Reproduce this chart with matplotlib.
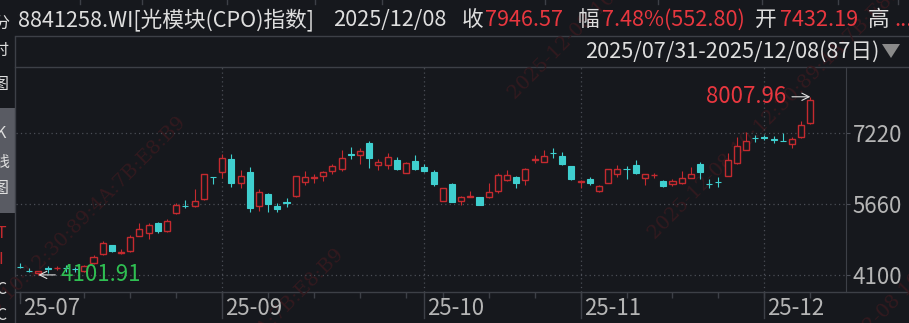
import numpy as np
import matplotlib
matplotlib.use("Agg")
import matplotlib.pyplot as plt
from matplotlib.patches import Polygon, Rectangle
from matplotlib.transforms import blended_transform_factory

plt.rcParams['font.family'] = ['Noto Sans CJK SC', 'DejaVu Sans']

# -------------------------------
# DATA (daily candles 2025/07/31 - 2025/12/08, 87 days)
# -------------------------------
opens = [4270, 4182, 4135, 4250, 4255, 4262, 4228, 4190, 4370, 4560,
         4751, 4572, 4632, 4962, 5014, 5233, 5064, 5466, 5620, 5613,
         5766, 6245, 6365, 6643, 6124, 6358, 5619, 5869, 5613, 5690,
         5832, 6146, 6235, 6277, 6380, 6424, 6750, 6731, 7001, 6512,
         6512, 6621, 6343, 6599, 6475, 6365, 5722, 6095, 5722, 5808,
         5804, 5804, 5941, 6183, 6255, 6183, 6628, 6584, 6785, 6709,
         6490, 6140, 6197, 5948, 6124, 6321, 6435, 6512, 6234, 6287,
         6161, 6095, 6124, 6234, 6534, 6095, 6150, 6277, 6548, 6841,
         7100, 7125, 7080, 7040, 6966, 7132, 7432.19]
highs = [4369, 4260, 4190, 4297, 4297, 4318, 4270, 4318, 4530, 4838,
         4760, 4660, 4985, 5231, 5230, 5270, 5320, 5672, 5740, 5985,
         6320, 6250, 6746, 6753, 6402, 6461, 5985, 5890, 5672, 5781,
         6270, 6380, 6314, 6387, 6526, 6841, 6913, 6878, 7045, 6643,
         6768, 6680, 6580, 6731, 6526, 6400, 6010, 6110, 5832, 5941,
         5810, 6110, 6330, 6402, 6265, 6440, 6731, 6841, 6878, 6800,
         6495, 6178, 6250, 6070, 6430, 6512, 6490, 6621, 6320, 6340,
         6175, 6210, 6387, 6475, 6570, 6205, 6242, 6768, 7132, 7228,
         7170, 7170, 7148, 7207, 7130, 7483, 8007.96]
lows = [4262, 4159, 4101.91, 4150, 4216, 4159, 4165, 4165, 4350, 4540,
        4610, 4550, 4610, 4950, 4882, 5030, 5050, 5437, 5570, 5600,
        5750, 6088, 6220, 6036, 6014, 5488, 5510, 5488, 5488, 5584,
        5804, 6073, 6110, 6168, 6314, 6380, 6643, 6534, 6453, 6402,
        6424, 6402, 6330, 6402, 6365, 6044, 5715, 5690, 5635, 5800,
        5635, 5795, 5905, 6160, 6014, 6080, 6548, 6580, 6672, 6512,
        6180, 6014, 6080, 5920, 6110, 6255, 6205, 6314, 6073, 6234,
        6040, 6044, 6088, 6220, 6205, 6014, 6036, 6260, 6530, 6830,
        7023, 7053, 6988, 7030, 6895, 7097, 7420]
closes = [4266, 4178, 4178, 4242, 4262, 4256, 4222, 4300, 4500, 4795,
          4632, 4605, 4940, 5102, 5203, 5071, 5284, 5635, 5605, 5722,
          6308, 6240, 6658, 6124, 6264, 5575, 5913, 5663, 5553, 5682,
          6264, 6242, 6245, 6358, 6490, 6658, 6742, 6819, 6672, 6584,
          6694, 6417, 6562, 6424, 6387, 6095, 6000, 5707, 5804, 5826,
          5635, 5920, 6292, 6292, 6124, 6424, 6645, 6709, 6778, 6534,
          6197, 6172, 6124, 6051, 6424, 6417, 6428, 6343, 6307, 6297,
          6058, 6161, 6220, 6314, 6365, 6085, 6140, 6621, 6928, 7038,
          7094, 7112, 7070, 7036, 7082, 7393.77, 7946.57]

month_labels = ['25-07', '25-09', '25-10', '25-11', '25-12']
month_pos = [0, 22, 44, 61, 81]
week_ticks = [0, 7, 12, 17, 22, 27, 32, 37, 42, 46, 51, 56, 61, 66, 71, 76, 81, 86]
y_ticks = [4100, 5660, 7220]

# colours
BG = '#16181d'
RED = '#c42a2f'
RED_TXT = '#e8373f'
CYAN = '#3fcfcf'
GREEN = '#2fbf52'
LINE = '#3d4047'
GRID = '#4b4e56'
TXT = '#dedede'
AXTXT = '#b5b5b5'
FS_HEAD = 15.6
FS_AX = 16

W, H = 909, 323
fig = plt.figure(figsize=(W / 100, H / 100), dpi=100)
fig.patch.set_facecolor(BG)

# -------------------------------
# background layer in pixel coords (header, sidebar, frame)
# -------------------------------
deco = fig.add_axes([0, 0, 1, 1], zorder=0)
deco.set_xlim(0, W)
deco.set_ylim(H, 0)
deco.axis('off')

# faint watermark
wm = '2025-12-08 10:12:30:89:4A:7B:E8:B9'
for sx, sy in [(-75, 385), (83, 517), (515, 100), (655, 240), (822, 381)]:
    deco.text(sx, sy, wm, rotation=45, rotation_mode='anchor', ha='left',
              va='baseline', fontsize=14, color='#331a1f', family='DejaVu Serif')

# sidebar
deco.add_patch(Rectangle((0, 108), 15, 105, color='#595b63', lw=0))
deco.plot([15, 15], [37, H], color=LINE, lw=1)
for ch, yy, cc in [('分', 24, TXT), ('时', 50, TXT), ('图', 84, TXT),
                   ('K', 134, TXT), ('线', 163, TXT), ('图', 188, TXT),
                   ('T', 233, RED), ('I', 260, RED), ('C', 289, TXT), ('C', 316, TXT)]:
    deco.text(1, yy, ch, ha='center', va='center', fontsize=11.5, color=cc)

# frame lines
deco.plot([15, W], [36, 36], color=LINE, lw=1)
deco.plot([15, W], [67, 67], color=LINE, lw=1)
deco.plot([15, W], [292, 292], color=LINE, lw=1)
for xx in [80, 142, 227, 315, 382, 545, 658, 762, 838, 898]:
    deco.plot([xx, xx], [0, 4], color=LINE, lw=1)

# header
deco.text(18, 20, '8841258.WI[光模块(CPO)指数]', fontsize=FS_HEAD, color=TXT, va='center')
deco.text(333, 20, '2025/12/08', fontsize=FS_HEAD, color=TXT, va='center')
deco.text(462, 20, '收', fontsize=FS_HEAD, color=TXT, va='center')
deco.text(485, 20, '7946.57', fontsize=FS_HEAD, color=RED_TXT, va='center')
deco.text(578, 20, '幅', fontsize=FS_HEAD, color=TXT, va='center')
deco.text(602, 20, '7.48%(552.80)', fontsize=FS_HEAD, color=RED_TXT, va='center')
deco.text(755, 20, '开', fontsize=FS_HEAD, color=TXT, va='center')
deco.text(780, 20, '7432.19', fontsize=FS_HEAD, color=RED_TXT, va='center')
deco.text(868, 20, '高', fontsize=FS_HEAD, color=TXT, va='center')
deco.text(894, 20, '...', fontsize=FS_HEAD, color=RED_TXT, va='center')

deco.text(585, 52, '2025/07/31-2025/12/08(87日)', fontsize=FS_HEAD, color=TXT, va='center')
deco.add_patch(Polygon([(882, 44), (900, 44), (891, 58)], color='#8a8a8a', lw=0))

# -------------------------------
# CANDLESTICK AXES
# -------------------------------
ax = fig.add_axes([16 / W, 1 - 292 / H, (845.7 - 16) / W, (292 - 67) / H], zorder=1)
ax.set_facecolor('none')
ax.set_xlim(-0.435, 89.85)
ax.set_ylim(3727, 8661)

o = np.array(opens)
h = np.array(highs)
l = np.array(lows)
c = np.array(closes)
x = np.arange(len(o))
up = c >= o
top = np.maximum(o, c)
bot = np.minimum(o, c)

# wicks (not through hollow bodies)
ax.vlines(x[up], top[up], h[up], color=RED, lw=0.8, zorder=2)
ax.vlines(x[up], l[up], bot[up], color=RED, lw=0.8, zorder=2)
ax.vlines(x[~up], l[~up], h[~up], color=CYAN, lw=0.8, zorder=2)

# bodies
ax.bar(x[up], top[up] - bot[up], bottom=bot[up], width=0.66,
       facecolor=BG, edgecolor=RED, linewidth=1.0, zorder=3)
ax.bar(x[~up], top[~up] - bot[~up], bottom=bot[~up], width=0.66,
       facecolor=CYAN, edgecolor=CYAN, linewidth=0.8, zorder=3)

# min / max labels
i_min = int(np.argmin(l))
i_max = int(np.argmax(h))
ax.annotate(f'{l[i_min]:.2f}', xy=(i_min, l[i_min]), xytext=(i_min + 2.45, l[i_min]),
            ha='left', va='center', fontsize=FS_AX, color=GREEN, zorder=5,
            arrowprops=dict(arrowstyle='->', color='#e0e0e0', lw=0.8,
                            mutation_scale=13, relpos=(0, 0.5), shrinkB=0))
ax.annotate(f'{h[i_max]:.2f}', xy=(i_max, h[i_max]), xytext=(i_max - 2.6, h[i_max]),
            ha='right', va='center', fontsize=FS_AX, color=RED_TXT, zorder=5,
            arrowprops=dict(arrowstyle='->', color='#e0e0e0', lw=0.8,
                            mutation_scale=13, relpos=(1, 0.5), shrinkB=0))

# grid
for yv in y_ticks:
    ax.axhline(yv, color=GRID, lw=0.9, ls=(0, (1, 2.5)), zorder=1)
for mp in month_pos[1:]:
    ax.axvline(mp, color=GRID, lw=0.9, ls=(0, (1, 2.5)), zorder=1)

# axis styling
for s in ['left', 'top', 'bottom']:
    ax.spines[s].set_visible(False)
ax.spines['right'].set_color(LINE)
ax.yaxis.tick_right()
ax.set_yticks(y_ticks)
ax.set_yticklabels([str(v) for v in y_ticks])
ax.tick_params(axis='y', length=3, color=GRID, pad=2, labelsize=FS_AX, labelcolor=AXTXT)
ax.set_xticks(week_ticks)
ax.set_xticklabels([])
ax.tick_params(axis='x', length=4.5, color=LINE, width=1)

# month boundary ticks and labels below the axis
trans = blended_transform_factory(ax.transData, ax.transAxes)
for mp, lab in zip(month_pos, month_labels):
    end = -0.05 if mp == 0 else -0.115
    ax.plot([mp, mp], [0, end], color=LINE, lw=1, transform=trans, clip_on=False)
    ax.text(mp + 0.35, -0.072, lab, transform=trans, ha='left', va='center',
            fontsize=FS_AX, color=AXTXT)

plt.savefig('out.png', dpi=100, facecolor=BG)
